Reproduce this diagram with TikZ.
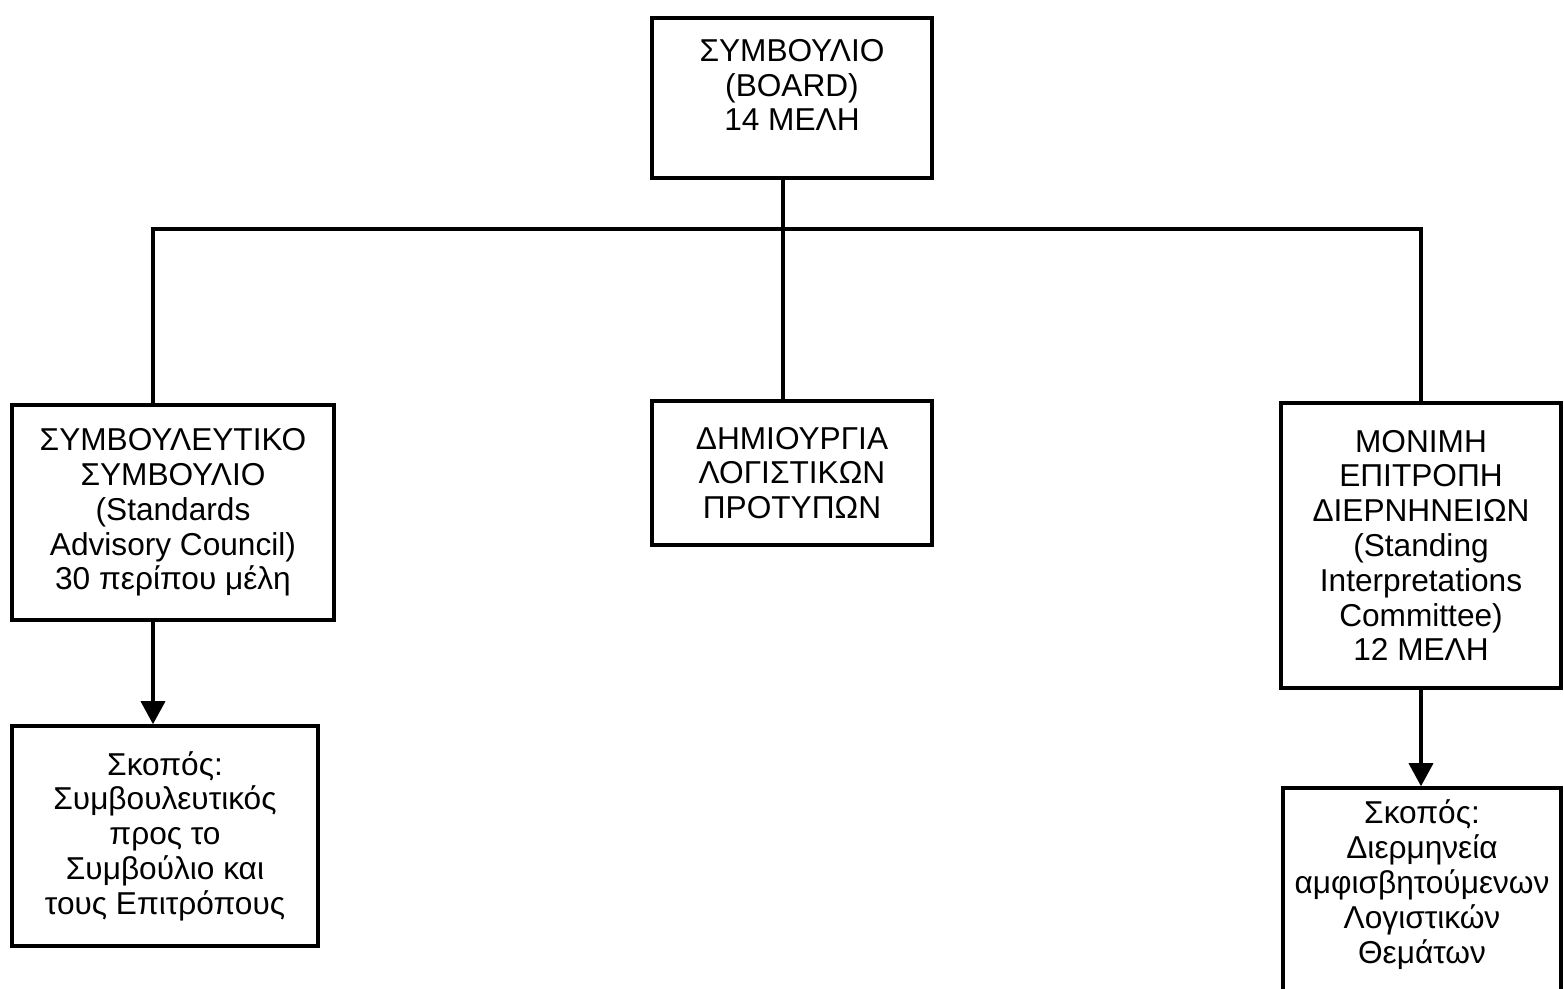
\documentclass[tikz,border=0pt]{standalone}
\usepackage{fontspec}
\setmainfont{Liberation Sans}
\usepackage{tikz}
\usetikzlibrary{arrows.meta, positioning, calc}
\tikzset{
	orgbox/.style ={rectangle, draw=black, line width=2pt, align=center, inner sep=2pt},
	conn/.style   ={line width=2pt},
	arr/.style    ={-{Triangle[length=0.46cm, width=0.48cm]}, line width=2pt},
}

\begin{document}
\begin{tikzpicture}[font=\fontsize{18pt}{19.8pt}\selectfont]
	\useasboundingbox (0,0) rectangle (31.28,-19.78);
	\node[orgbox, minimum width=5.6cm, minimum height=3.2cm] (board) at (15.84,-1.96)
		{ΣΥΜΒΟΥΛΙΟ\\ (BOARD)\\ 14 ΜΕΛΗ\\[-0.18cm]};
	\node[orgbox, minimum width=6.44cm, minimum height=4.3cm] (council) at (3.46,-10.25)
		{ΣΥΜΒΟΥΛΕΥΤΙΚΟ\\ ΣΥΜΒΟΥΛΙΟ\\ (Standards\\ Advisory Council)\\ 30 περίπου μέλη};
	\node[orgbox, minimum width=5.6cm, minimum height=2.88cm] (standards) at (15.84,-9.46)
		{ΔΗΜΙΟΥΡΓΙΑ\\ ΛΟΓΙΣΤΙΚΩΝ\\ ΠΡΟΤΥΠΩΝ};
	\node[orgbox, minimum width=5.6cm, minimum height=5.7cm] (sic) at (28.42,-10.91)
		{ΜΟΝΙΜΗ\\ ΕΠΙΤΡΟΠΗ\\ ΔΙΕΡΝΗΝΕΙΩΝ\\ (Standing\\ Interpretations\\ Committee)\\ 12 ΜΕΛΗ};
	\node[orgbox, minimum width=6.12cm, minimum height=4.4cm] (purposeL) at (3.3,-16.72)
		{Σκοπός:\\ Συμβουλευτικός\\ προς το\\ Συμβούλιο και\\ τους Επιτρόπους};
	\node[orgbox, minimum width=5.56cm, minimum height=4.24cm] (purposeR) at (28.44,-17.88)
		{Σκοπός:\\ Διερμηνεία\\ αμφισβητούμενων\\ Λογιστικών\\ Θεμάτων\\[-0.2cm]};
	% bus from the board to the three bodies
	\coordinate (busL) at (3.06,-4.58);
	\coordinate (busM) at (15.66,-4.58);
	\coordinate (busR) at (28.42,-4.58);
	\draw[conn] (busM |- board.south) -- (busM |- standards.north);
	\draw[conn] (busL |- council.north) -- (busL) -- (busR) -- (busR |- sic.north);
	\draw[arr] (busL |- council.south) -- (busL |- purposeL.north);
	\draw[arr] (busR |- sic.south) -- (busR |- purposeR.north);
\end{tikzpicture}
\end{document}
